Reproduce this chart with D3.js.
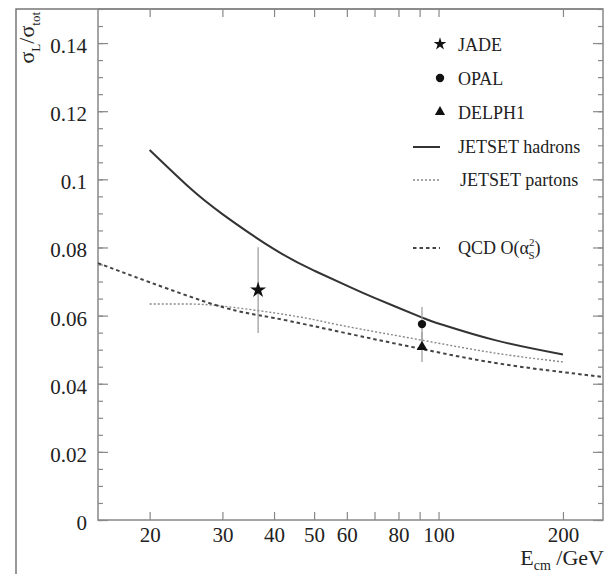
<!DOCTYPE html>
<html>
<head>
<meta charset="utf-8">
<script src="https://cdn.jsdelivr.net/npm/d3@7"></script>
<style>
  body { margin: 0; background: #fff; }
  svg { display: block; font-family: 'Liberation Serif', 'DejaVu Serif', serif; }
  .axis text { font-size: 21px; fill: #222; }
  .axis line { stroke: #888; stroke-width: 1.2; }
  .axis .domain { display: none; }
  .legend text { font-size: 18px; fill: #222; }
</style>
</head>
<body>
<div class="chart"></div>
<script>
// curves (E in GeV, sigma_L / sigma_tot)
const hadronE = [20, 25, 30, 40, 50, 60, 70, 91, 100, 137, 200];
const hadronR = [0.1086, 0.0975, 0.0898, 0.0795, 0.0732, 0.0688, 0.0652, 0.0595, 0.0577, 0.0528, 0.0486];

const partonE = [20, 25, 30, 40, 50, 60, 91, 137, 200];
const partonR = [0.0634, 0.0634, 0.0628, 0.0608, 0.0588, 0.0568, 0.0528, 0.0490, 0.0464];

const qcdE = [15, 20, 30, 40, 60, 91, 137, 200, 250];
const qcdR = [0.0754, 0.0698, 0.0625, 0.0593, 0.0548, 0.0502, 0.0461, 0.0434, 0.0420];

// measurements
const expNames = ['JADE', 'OPAL', 'DELPH1'];
const expE = [36.6, 91.2, 91.2];
const expR = [0.0675, 0.0575, 0.0508];
const expErr = [0.0126, 0.0050, 0.0044];

// ticks
const yMajor = [0, 0.02, 0.04, 0.06, 0.08, 0.1, 0.12, 0.14];
const yMinor = d3.range(0, 0.1501, 0.005);
const xTicks = [20, 30, 40, 50, 60, 70, 80, 90, 100, 200];
const xLabels = [20, 30, 40, 50, 60, 80, 100, 200];

const serif = "'Liberation Serif', 'DejaVu Serif', serif";
const width = 607, height = 574;
const plot = { left: 98, right: 603, top: 9, bottom: 520 };

const xScale = d3.scaleLog().domain([15, 250]).range([plot.left, plot.right]);
const yScale = d3.scaleLinear().domain([0, 0.15]).range([plot.bottom, plot.top]);

const svg = d3.select('.chart')
    .append('svg')
    .attr('width', width)
    .attr('height', height);

// outer scan frame
svg.append('path')
    .attr('d', `M16,${height} L16,${plot.top} L${plot.right},${plot.top}`)
    .attr('fill', 'none')
    .attr('stroke', '#777')
    .attr('stroke-width', 1.5);

// axes (ticks point inward)
function addAxis(axis, tx, ty) {
    return svg.append('g')
        .attr('class', 'axis')
        .attr('transform', `translate(${tx},${ty})`)
        .call(axis)
        .attr('font-family', serif)
        .attr('font-size', 21);
}

const gLeft = addAxis(d3.axisLeft(yScale)
    .tickValues(yMajor)
    .tickSize(-10)
    .tickPadding(11)
    .tickFormat(d => String(+d.toFixed(2))), plot.left, 0);
gLeft.selectAll('text').attr('dy', '0.45em');

addAxis(d3.axisLeft(yScale).tickValues(yMinor).tickSize(-5).tickFormat(''), plot.left, 0);
addAxis(d3.axisRight(yScale).tickValues(yMajor).tickSize(-10).tickFormat(''), plot.right, 0);
addAxis(d3.axisRight(yScale).tickValues(yMinor).tickSize(-5).tickFormat(''), plot.right, 0);

addAxis(d3.axisBottom(xScale)
    .tickValues(xTicks)
    .tickSize(-8)
    .tickPadding(7)
    .tickFormat(d => xLabels.includes(d) ? d : ''), 0, plot.bottom);

addAxis(d3.axisTop(xScale).tickValues(xTicks).tickSize(-8).tickFormat(''), 0, plot.top);

// plot box
svg.append('rect')
    .attr('x', plot.left)
    .attr('y', plot.top)
    .attr('width', plot.right - plot.left)
    .attr('height', plot.bottom - plot.top)
    .attr('fill', 'none')
    .attr('stroke', '#888')
    .attr('stroke-width', 1.5);

// curves
const line = d3.line()
    .x(d => xScale(d[0]))
    .y(d => yScale(d[1]))
    .curve(d3.curveNatural);

const curves = [
    { e: hadronE, r: hadronR, stroke: '#333', w: 2, dash: null },
    { e: partonE, r: partonR, stroke: '#888', w: 1.4, dash: '2,2' },
    { e: qcdE, r: qcdR, stroke: '#444', w: 2, dash: '3.5,3' }
];

curves.forEach(c => {
    svg.append('path')
        .datum(c.e.map((e, i) => [e, c.r[i]]))
        .attr('d', line)
        .attr('fill', 'none')
        .attr('stroke', c.stroke)
        .attr('stroke-width', c.w)
        .attr('stroke-dasharray', c.dash);
});

// error bars + markers
const symbols = [d3.symbolStar, d3.symbolCircle, d3.symbolTriangle];
const symSize = [80, 55, 50];

expNames.forEach((name, i) => {
    svg.append('line')
        .attr('x1', xScale(expE[i])).attr('x2', xScale(expE[i]))
        .attr('y1', yScale(expR[i] - expErr[i]))
        .attr('y2', yScale(expR[i] + expErr[i]))
        .attr('stroke', '#999')
        .attr('stroke-width', 1.2);
});

expNames.forEach((name, i) => {
    svg.append('path')
        .attr('d', d3.symbol().type(symbols[i]).size(symSize[i]))
        .attr('transform', `translate(${xScale(expE[i])},${yScale(expR[i])})`)
        .attr('fill', '#111');
});

// legend
const legend = svg.append('g').attr('class', 'legend');
const markY = [44, 78, 112];
const legSize = [50, 55, 45];
expNames.forEach((name, i) => {
    legend.append('path')
        .attr('d', d3.symbol().type(symbols[i]).size(legSize[i]))
        .attr('transform', `translate(440,${markY[i]})`)
        .attr('fill', '#111');
    legend.append('text')
        .attr('x', 458)
        .attr('y', markY[i] + 7)
        .text(name);
});

const lineY = [147, 180, 248];
curves.forEach((c, i) => {
    legend.append('line')
        .attr('x1', 413).attr('x2', 440)
        .attr('y1', lineY[i]).attr('y2', lineY[i])
        .attr('stroke', c.stroke)
        .attr('stroke-width', c.w)
        .attr('stroke-dasharray', c.dash);
});

legend.append('text').attr('x', 458).attr('y', 153).text('JETSET hadrons');
legend.append('text').attr('x', 460).attr('y', 186).text('JETSET partons');

const qcd = legend.append('text').attr('x', 458).attr('y', 254);
qcd.append('tspan').text('QCD O(α');
qcd.append('tspan').attr('font-size', 11).attr('dy', -8).text('2');
qcd.append('tspan').attr('font-size', 11).attr('dx', -6).attr('dy', 13).text('S');
qcd.append('tspan').attr('dy', -5).text(')');

// axis titles
const yTitle = svg.append('text')
    .attr('transform', 'translate(34,12) rotate(-90)')
    .attr('text-anchor', 'end')
    .attr('font-size', 22)
    .attr('fill', '#222');
yTitle.append('tspan').text('σ');
yTitle.append('tspan').attr('font-size', 13).attr('dy', 6).text('L');
yTitle.append('tspan').attr('dy', -6).text('/σ');
yTitle.append('tspan').attr('font-size', 13).attr('dy', 6).text('tot');

const xTitle = svg.append('text')
    .attr('x', 604)
    .attr('y', 565)
    .attr('text-anchor', 'end')
    .attr('font-size', 22)
    .attr('fill', '#222');
xTitle.append('tspan').text('E');
xTitle.append('tspan').attr('font-size', 14).attr('dy', 5).text('cm');
xTitle.append('tspan').attr('dy', -5).text(' /GeV');
</script>
</body>
</html>
